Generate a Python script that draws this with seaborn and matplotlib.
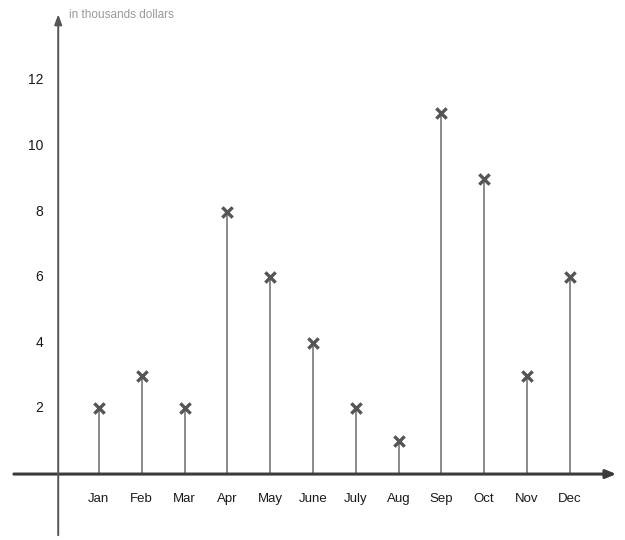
import matplotlib
matplotlib.use("Agg")
import matplotlib.pyplot as plt
import seaborn as sns
import pandas as pd

months = ["Jan", "Feb", "Mar", "Apr", "May", "June", "July", "Aug", "Sep", "Oct", "Nov", "Dec"]
values = [2, 3, 2, 8, 6, 4, 2, 1, 11, 9, 3, 6]
y_ticks = [2, 4, 6, 8, 10, 12]
unit_label = "in thousands dollars"

sns.set_style("white")
plt.rcParams["font.family"] = ["Liberation Sans Narrow", "Liberation Sans", "DejaVu Sans"]

df = pd.DataFrame({"month": months, "value": values, "pos": range(1, len(months) + 1)})

fig = plt.figure(figsize=(6.25, 5.4), dpi=100)
ax = fig.add_axes([0, 0, 1, 1])
ax.set_xlim(-1.31, 13.29)
ax.set_ylim(-2.01, 14.45)
ax.axis("off")

# stems
ax.vlines(df["pos"], 0, df["value"], color="#8a8a8a", linewidth=1.4, zorder=2)
# markers
sns.scatterplot(data=df, x="pos", y="value", marker="x", s=55, color="#555555",
                linewidth=2.4, ax=ax, zorder=3, legend=False)

# axes with arrows
ax.annotate("", xy=(13.15, 0), xytext=(-1.05, 0),
            arrowprops=dict(arrowstyle="-|>,head_length=0.6,head_width=0.25",
                            color="#3a3a3a", lw=2.2))
ax.annotate("", xy=(0.05, 14.1), xytext=(0.05, -1.95),
            arrowprops=dict(arrowstyle="-|>,head_length=0.6,head_width=0.22",
                            color="#555555", lw=1.4))

for t in y_ticks:
    ax.text(-0.3, t, str(t), ha="right", va="center", fontsize=10, color="#1a1a1a")
for p, m in zip(df["pos"], df["month"]):
    ax.text(p, -0.75, m, ha="center", va="center", fontsize=9.5, color="#1a1a1a")

ax.text(0.3, 14.0, unit_label, ha="left", va="center", fontsize=8.5, color="#999999")

fig.savefig("out.png", dpi=100, facecolor="white")
